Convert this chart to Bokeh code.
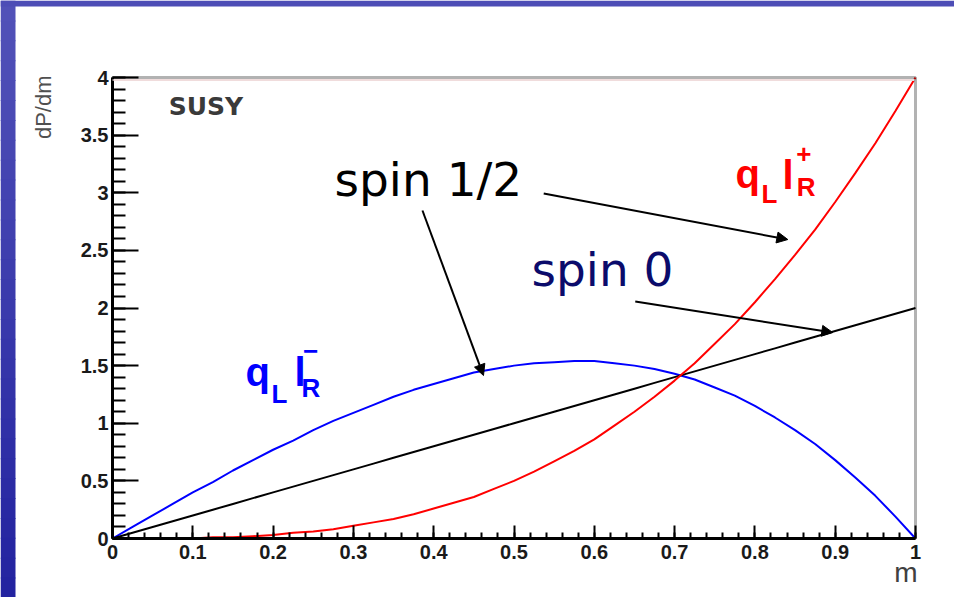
import math
from bokeh.plotting import figure
from bokeh.models import Range1d, FixedTicker, Label, Arrow, NormalHead, BoxAnnotation
from bokeh.embed import file_html
from bokeh.resources import INLINE

# Normalised invariant mass m and the dP/dm distributions
m = [0.000, 0.025, 0.050, 0.075, 0.100, 0.125, 0.150, 0.175, 0.200, 0.225,
     0.250, 0.275, 0.300, 0.325, 0.350, 0.375, 0.400, 0.425, 0.450, 0.475,
     0.500, 0.525, 0.550, 0.575, 0.600, 0.625, 0.650, 0.675, 0.700, 0.725,
     0.750, 0.775, 0.800, 0.825, 0.850, 0.875, 0.900, 0.925, 0.950, 0.975,
     1.000]
spin0 = [0.00, 0.05, 0.10, 0.15, 0.20, 0.25, 0.30, 0.35, 0.40, 0.45,
         0.50, 0.55, 0.60, 0.65, 0.70, 0.75, 0.80, 0.85, 0.90, 0.95,
         1.00, 1.05, 1.10, 1.15, 1.20, 1.25, 1.30, 1.35, 1.40, 1.45,
         1.50, 1.55, 1.60, 1.65, 1.70, 1.75, 1.80, 1.85, 1.90, 1.95,
         2.00]
ql_lr_plus = [0.00, 0.00, 0.00, 0.00, 0.00, 0.01, 0.01, 0.02, 0.03, 0.05,
              0.06, 0.08, 0.11, 0.14, 0.17, 0.21, 0.26, 0.31, 0.36, 0.43,
              0.50, 0.58, 0.67, 0.76, 0.86, 0.98, 1.10, 1.23, 1.37, 1.52,
              1.69, 1.86, 2.05, 2.25, 2.46, 2.68, 2.92, 3.17, 3.43, 3.71,
              4.00]
ql_lr_minus = [0.00, 0.10, 0.20, 0.30, 0.40, 0.49, 0.59, 0.68, 0.77, 0.85,
               0.94, 1.02, 1.09, 1.16, 1.23, 1.29, 1.34, 1.39, 1.44, 1.47,
               1.50, 1.52, 1.53, 1.54, 1.54, 1.52, 1.50, 1.47, 1.43, 1.38,
               1.31, 1.24, 1.15, 1.05, 0.94, 0.82, 0.68, 0.53, 0.37, 0.19,
               0.00]

x_ticks = [0.0, 0.1, 0.2, 0.3, 0.4, 0.5, 0.6, 0.7, 0.8, 0.9, 1.0]
x_tick_labels = ["0", "0.1", "0.2", "0.3", "0.4", "0.5", "0.6", "0.7", "0.8", "0.9", "1"]
y_ticks = [0.0, 0.5, 1.0, 1.5, 2.0, 2.5, 3.0, 3.5, 4.0]
y_tick_labels = ["0", "0.5", "1", "1.5", "2", "2.5", "3", "3.5", "4"]

# page geometry (pixels) and the histogram box inside it
W, H = 954, 597
BOX_L, BOX_R, BOX_T, BOX_B = 112, 915, 77, 538
XMIN, XMAX, YMIN, YMAX = 0.0, 1.0, 0.0, 4.0
SX = (XMAX - XMIN) / (BOX_R - BOX_L)
SY = (YMAX - YMIN) / (BOX_B - BOX_T)


def dx(px):
    return XMIN + (px - BOX_L) * SX


def dy(py):
    return YMIN + (BOX_B - py) * SY


# the drawing area covers the whole page; the axes sit at fixed positions inside it
p = figure(width=W, height=H, title=None,
           x_range=Range1d(dx(0), dx(W)), y_range=Range1d(dy(H), dy(0)),
           output_backend="svg", toolbar_location=None, min_border=0,
           background_fill_color="white", border_fill_color="white",
           outline_line_color=None)
p.grid.visible = False

# slide background: blue band along the top, darkening blue band down the left
top_c = (82, 82, 184)
bot_c = (35, 35, 160)
n_bands = 30
for i in range(n_bands):
    f = i / (n_bands - 1)
    c = tuple(int(round(top_c[k] + (bot_c[k] - top_c[k]) * f)) for k in range(3))
    p.add_layout(BoxAnnotation(left=dx(0), right=dx(15),
                               top=dy(H * i / n_bands), bottom=dy(H * (i + 1) / n_bands + 1),
                               fill_color="#%02x%02x%02x" % c, fill_alpha=1.0,
                               line_color=None))
p.add_layout(BoxAnnotation(left=dx(0), right=dx(W), top=dy(0), bottom=dy(6),
                           fill_color="#4d4db6", fill_alpha=1.0, line_color=None))

# histogram frame and the faint line just under its top edge
p.add_layout(BoxAnnotation(left=XMIN, right=XMAX, top=YMAX - 1.5 * SY,
                           bottom=YMAX - 3.5 * SY, fill_color="#f0dcdc",
                           fill_alpha=1.0, line_color=None))
p.add_layout(BoxAnnotation(left=XMIN, right=XMAX, top=YMAX, bottom=YMIN,
                           fill_color=None, line_color="black", line_width=3))

# ROOT-style axes: ticks pointing into the frame
x_minor = [round(i * 0.02, 2) for i in range(51)]
y_minor = [round(i * 0.1, 1) for i in range(41)]
p.xaxis.fixed_location = YMIN
p.yaxis.fixed_location = XMIN
p.xaxis.bounds = (XMIN, XMAX)
p.yaxis.bounds = (YMIN, YMAX)
p.xaxis.ticker = FixedTicker(ticks=x_ticks, minor_ticks=x_minor)
p.yaxis.ticker = FixedTicker(ticks=y_ticks, minor_ticks=y_minor)
p.xaxis.major_label_overrides = dict(zip(x_ticks, x_tick_labels))
p.yaxis.major_label_overrides = dict(zip(y_ticks, y_tick_labels))

for ax in (p.xaxis[0], p.yaxis[0]):
    ax.axis_line_width = 3
    ax.axis_line_color = "black"
    ax.major_tick_out = 0
    ax.minor_tick_out = 0
    ax.major_tick_line_width = 2
    ax.minor_tick_line_width = 2
    ax.major_tick_line_color = "black"
    ax.minor_tick_line_color = "black"
    ax.major_label_text_font = "Liberation Sans"
    ax.major_label_text_font_style = "bold"
    ax.major_label_text_font_size = "20px"
    ax.major_label_text_color = "#1a1a1a"

p.xaxis.major_tick_in = 13
p.xaxis.minor_tick_in = 6
p.xaxis.major_label_standoff = 6
p.yaxis.major_tick_in = 26
p.yaxis.minor_tick_in = 13
p.yaxis.major_label_standoff = 4

# axis titles at the ends of the axes
p.add_layout(Label(x=dx(43), y=dy(75), text="dP/dm", angle=math.pi / 2,
                   text_align="right", text_baseline="middle",
                   text_font="Liberation Sans", text_font_size="22px",
                   text_color="#505050"))
p.add_layout(Label(x=dx(917), y=dy(572), text="m", text_align="right",
                   text_baseline="alphabetic", text_font="Liberation Sans",
                   text_font_size="28px", text_color="#404040"))

# distributions
p.line(m, ql_lr_minus, line_color="#0000ff", line_width=2)
p.line(m, spin0, line_color="black", line_width=2)
p.line(m, ql_lr_plus, line_color="#ff0000", line_width=2)

p.add_layout(Label(x=0.070, y=3.748, text="SUSY", text_baseline="alphabetic",
                   text_font="DejaVu Sans", text_font_style="bold",
                   text_font_size="25px", text_color="#3a3a3a"))

# channel labels q_L l_R^+ and q_L l_R^-
def channel_label(color, qx, qy, lx, ly, ex, ey, sx, sy, sign, rx, ry):
    common = dict(text_font="Liberation Sans", text_font_style="bold",
                  text_color=color, text_baseline="alphabetic")
    p.add_layout(Label(x=qx, y=qy, text="q", text_font_size="40px", **common))
    p.add_layout(Label(x=lx, y=ly, text="L", text_font_size="26px", **common))
    p.add_layout(Label(x=ex, y=ey, text="l", text_font_size="40px", **common))
    p.add_layout(Label(x=sx, y=sy, text=sign, text_font_size="26px",
                       text_align="center", **common))
    p.add_layout(Label(x=rx, y=ry, text="R", text_font_size="26px", **common))

channel_label("#ff0000", 0.7758, 3.167, 0.8082, 2.985, 0.8344, 3.150,
              0.861, 3.332, "+", 0.8520, 3.046)
channel_label("#0000ff", 0.1656, 1.441, 0.1980, 1.250, 0.2267, 1.441,
              0.2466, 1.623, "\u2212", 0.2354, 1.310)

# spin annotations with arrows
p.add_layout(Label(x=0.2765, y=3.112, text="spin 1/2", text_font="DejaVu Sans",
                   text_font_size="47px", text_color="black",
                   text_baseline="alphabetic"))
p.add_layout(Label(x=0.5218, y=2.331, text="spin 0", text_font="DejaVu Sans",
                   text_font_size="47px", text_color="#0b0b6b",
                   text_baseline="alphabetic"))

def pointer(x0, y0, x1, y1):
    p.add_layout(Arrow(end=NormalHead(size=11, fill_color="black",
                                      line_color="black", line_width=1),
                       x_start=x0, y_start=y0, x_end=x1, y_end=y1,
                       line_color="black", line_width=2))

pointer(0.537, 2.993, 0.841, 2.594)
pointer(0.386, 2.846, 0.462, 1.414)
pointer(0.651, 2.056, 0.897, 1.787)

open("out.html", "w").write(file_html(p, INLINE))
